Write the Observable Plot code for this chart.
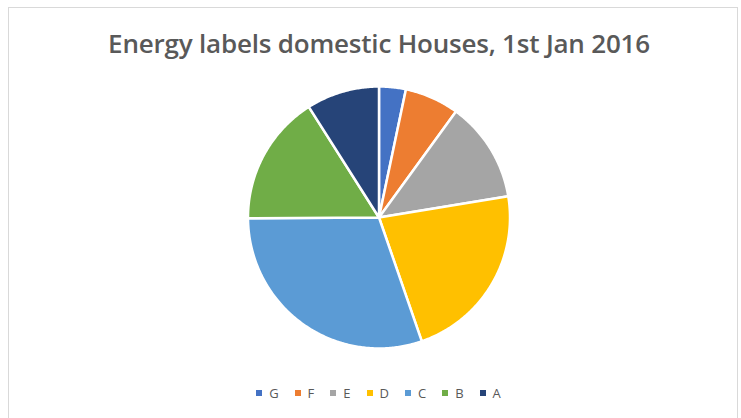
<!DOCTYPE html>
<html><head><meta charset="utf-8">
<script src="https://cdn.jsdelivr.net/npm/d3@7"></script>
<script src="https://cdn.jsdelivr.net/npm/@observablehq/plot@0.6"></script>
<style>
html,body{margin:0;padding:0;background:#fff;}
#wrap{position:relative;width:741px;height:418px;overflow:hidden;font-family:"Open Sans",sans-serif;}
#frame{position:absolute;left:8px;top:7px;width:730px;height:420px;border:1px solid #d9d9d9;box-sizing:border-box;}
#title{position:absolute;left:0;top:25px;width:758px;text-align:center;font-size:26px;font-weight:600;color:#595959;letter-spacing:-0.2px;}
#legend{position:absolute;left:0;top:384px;width:757px;display:flex;justify-content:center;font-size:13px;color:#595959;}
#legend span.item{display:flex;align-items:center;margin:0 8px;}
#legend span.sw{display:inline-block;width:6px;height:6px;margin-right:7px;}
#chart{position:absolute;left:0;top:0;}
</style></head>
<body><div id="wrap"><div id="frame"></div><div id="chart"></div><div id="title"></div><div id="legend"></div></div>
<script>
const titleText = "Energy labels domestic Houses, 1st Jan 2016";
const labels = ["G","F","E","D","C","B","A"];
const values = [3.3, 6.7, 12.4, 22.3, 30.2, 16.1, 9.0];
const colors = ["#4472C4","#ED7D31","#A5A5A5","#FFC000","#5B9BD5","#70AD47","#264478"];

document.getElementById("title").textContent = titleText;
const leg = document.getElementById("legend");
labels.forEach((l,i)=>{
  const it = document.createElement("span"); it.className="item";
  const sw = document.createElement("span"); sw.className="sw"; sw.style.background=colors[i];
  it.appendChild(sw); it.appendChild(document.createTextNode(l));
  leg.appendChild(it);
});

const W = 741, H = 418, cx = 378.5, cy = 217, R = 131;
const arcs = d3.pie().sort(null).value(d=>d.value)(labels.map((l,i)=>({label:l,value:values[i]})));
const pts = [];
for (const a of arcs) {
  const lab = a.data.label;
  pts.push({label:lab, x:0, y:0});
  const n = Math.max(4, Math.ceil((a.endAngle - a.startAngle) / 0.01));
  for (let k=0;k<=n;k++){
    const t = a.startAngle + (a.endAngle - a.startAngle)*k/n;
    pts.push({label:lab, x:Math.sin(t), y:Math.cos(t)});
  }
  pts.push({label:lab, x:0, y:0});
}

const plot = Plot.plot({
  width: W, height: H,
  margin: 0,
  x: {domain: [-cx/R, (W-cx)/R], axis: null},
  y: {domain: [-(H-cy)/R, cy/R], axis: null},
  color: {domain: labels, range: colors},
  marks: [
    Plot.line(pts, {x:"x", y:"y", z:"label", fill:"label", stroke:"white", strokeWidth:2.5, strokeLinejoin:"round", curve:"linear"})
  ]
});
plot.style.background = "transparent";
document.getElementById("chart").appendChild(plot);
</script></body></html>
